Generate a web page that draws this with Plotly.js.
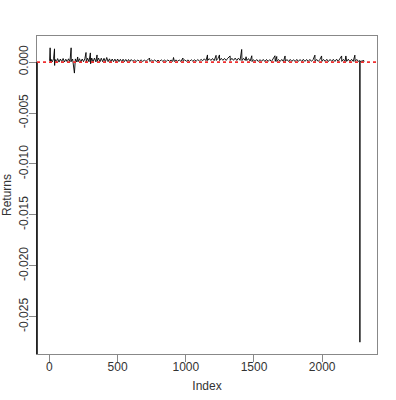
<!DOCTYPE html>
<html>
<head>
<meta charset="utf-8">
<script src="https://cdn.plot.ly/plotly-3.0.1.min.js"></script>
<style>html,body{margin:0;padding:0;background:#fff;}#chart{width:396px;height:400px;}</style>
</head>
<body>
<div id="chart"></div>
<script>
const idx = [1,5,8,10,20,30,37,38,40,50,60,70,80,90,100,110,120,130,140,150,159,160,170,183,185,190,200,207,210,220,230,240,250,260,268,270,280,290,300,302,310,320,330,340,349,350,360,370,380,390,400,410,420,430,440,450,460,470,480,490,500,510,520,530,540,550,560,570,580,590,600,
612,624,636,648,660,672,684,696,708,720,734,736,748,760,772,784,796,808,820,832,844,856,868,880,892,904,910,916,928,940,952,964,979,980,992,1004,1016,1028,1040,1052,1064,1076,1088,1100,1112,
1124,1136,1148,1159,1160,1172,1184,1196,1208,1222,1224,1236,1247,1248,1260,1272,1284,1296,1308,1325,1326,1338,1350,1362,1374,1386,1398,1410,1412,1424,1436,1442,1448,1460,1472,1484,1486,
1496,1508,1520,1532,1544,1556,1568,1580,1592,1604,1616,1628,1640,1654,1656,1667,1668,1680,1692,1704,1716,1728,1730,1742,1754,1766,1778,1790,1802,1814,1826,1838,1850,1862,1874,1886,1898,1910,1922,1934,1947,1948,1960,1972,1984,1996,1998,2010,2022,2034,2046,2058,2070,2082,2094,2106,2118,2130,2143,2144,2156,2168,2174,2180,2192,2204,2216,2228,2240,2242,2254,2266,2276,2277,2278,2286,2294,2301,2305,2310];
const returns = [0.00012,0.0014,0.00005,0.0003,0.00002,0.00032,0.0013,-0.00033,0.00028,0.00003,
0.00034,0.0,0.0003,0.00004,0.00035,0.00001,0.00028,0.00003,0.00032,0.00002,
0.0014,0.00005,0.0003,-0.00108,0.0001,0.00031,0.00002,0.0005,0.00003,0.00033,
0.0,0.0003,0.00004,0.00036,0.00094,0.00001,0.00038,0.00003,0.0009,-0.00017,
0.0004,0.00002,0.00039,0.00003,0.0007,0.00005,0.0004,0.00002,0.00038,0.00004,
0.00037,0.00001,0.00045,0.00004,0.00032,0.00003,0.0003,0.00004,0.00029,0.00003,
0.0003,0.00004,0.00027,0.00004,0.00028,0.00005,0.00026,0.00004,0.00025,0.00005,
0.00025,
0.00007,0.00021,0.00006,0.0002,0.00008,0.00022,0.00006,0.00019,0.00007,0.00021,0.0004,0.00006,0.0002,0.00008,0.00021,0.00006,0.00019,0.00007,0.00022,0.00007,0.0002,0.00006,0.00021,0.00008,0.0002,0.00007,0.00045,0.00006,0.00021,0.00008,0.0002,0.00007,0.0004,0.00007,0.00022,0.00008,0.00021,0.00007,0.00023,0.00008,0.00022,0.00009,0.00024,0.0001,0.00026,
0.00013,0.00032,0.00014,0.0007,0.00015,0.00034,0.00016,0.00035,0.00014,0.00066,0.00016,0.00036,0.0007,0.00015,0.00037,0.00017,0.00036,0.00016,0.00038,0.0006,0.00016,0.00037,0.00017,0.00039,0.00016,0.00038,0.00017,0.00124,0.00015,0.00037,0.00016,0.00052,0.00015,0.00034,0.0001,0.00062,0.00005,
0.00024,0.00007,0.00025,0.00006,0.00024,0.00008,0.00026,0.00006,0.00025,0.00007,0.00024,0.00005,0.00026,0.00062,0.00007,0.00055,0.00006,0.00025,0.00007,0.00026,0.00005,0.0006,0.00007,0.00025,0.00006,0.00026,0.00007,0.00024,0.00005,0.00026,0.00007,0.00025,0.00006,0.00027,0.00007,0.00025,0.00006,0.00026,0.00007,0.00025,0.00068,0.00006,0.00026,0.00007,0.00027,0.0006,0.00006,0.00026,0.00007,0.00027,0.00006,0.00026,0.00007,0.00027,0.00006,0.00028,0.00007,0.00027,0.0006,0.00007,0.00027,0.00006,0.0006,0.00007,0.00028,0.00006,0.00027,0.00007,0.00068,0.00006,0.00026,0.00007,0.00015,-0.0275,0.00003,0.00012,0.00002,0.0002,0.00004,0.00008];

const xTicks = [0, 500, 1000, 1500, 2000];
const xTickText = ["0", "500", "1000", "1500", "2000"];
const yTicks = [0, -0.005, -0.010, -0.015, -0.020, -0.025];
const yTickText = ["0.000", "-0.005", "-0.010", "-0.015", "-0.020", "-0.025"];
const refLevel = 0;

const font = {family: "Liberation Sans, Arial, sans-serif", size: 12, color: "#333"};

const trace = {
  x: idx, y: returns, type: "scatter", mode: "lines",
  line: {color: "#000", width: 0.9}, hoverinfo: "skip"
};

const layout = {
  width: 396, height: 400,
  margin: {l: 37, r: 19, t: 36, b: 46, pad: 0},
  paper_bgcolor: "#fff", plot_bgcolor: "#fff",
  showlegend: false,
  font: font,
  xaxis: {
    range: [-91.4, 2402.4], tickvals: xTicks, ticktext: xTickText,
    showgrid: false, zeroline: false, showline: true, mirror: true,
    linecolor: "#888", linewidth: 1, ticks: "outside", ticklen: 7, tickcolor: "#888",
    tickfont: font, ticklabelstandoff: -5,
    title: {text: "Index", font: font, standoff: 8}
  },
  yaxis: {
    range: [-0.02866, 0.00256], tickvals: yTicks, ticktext: yTickText,
    tickangle: -90,
    showgrid: false, zeroline: false, showline: true, mirror: true,
    linecolor: "#888", linewidth: 1, ticks: "outside", ticklen: 7, tickcolor: "#888",
    tickfont: font, ticklabelstandoff: -4,
    title: {text: "Returns", font: font, standoff: 3}
  },
  shapes: [
    {type: "line", xref: "paper", yref: "y", x0: 0, x1: 0, y0: refLevel, y1: -0.02866,
     line: {color: "#000", width: 1.5}},
    {type: "line", xref: "paper", yref: "y", x0: 0, x1: 1, y0: refLevel, y1: refLevel,
     line: {color: "#f03030", width: 1.8, dash: "3px,3px"}}
  ]
};

Plotly.newPlot("chart", [trace], layout, {staticPlot: true, displayModeBar: false});
</script>
</body>
</html>
